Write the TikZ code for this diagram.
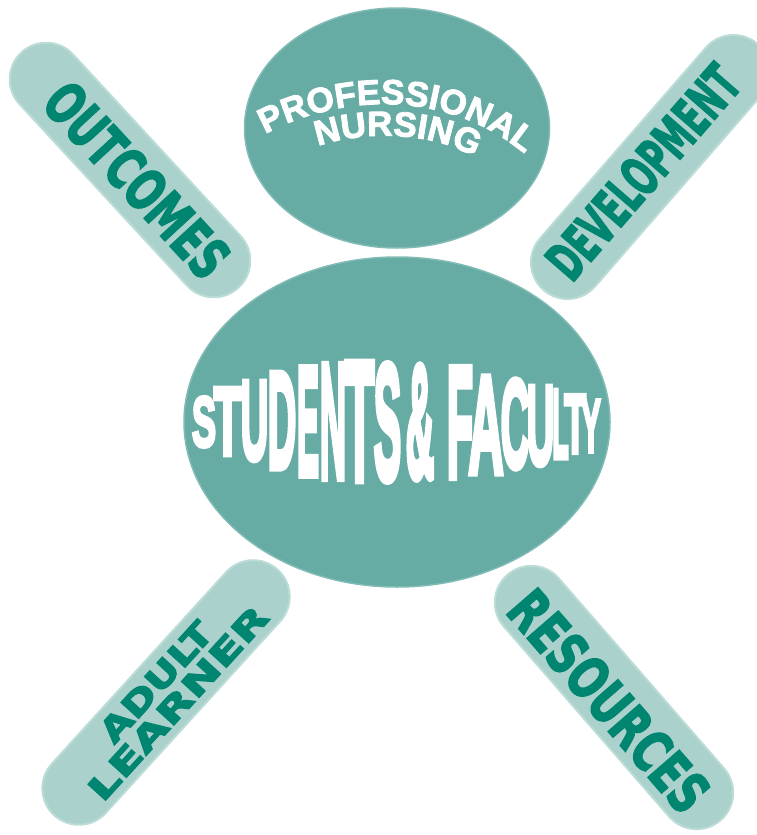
\documentclass[tikz,border=0pt]{standalone}
\usepackage{fontspec}
\newfontfamily\lsans[BoldFeatures={FakeBold=2.5}]{Liberation Sans}
\newfontfamily\lsansheavy[BoldFeatures={FakeBold=5}]{Liberation Sans}
\newfontfamily\dvsans[BoldFeatures={FakeBold=3}]{DejaVu Sans}
\usetikzlibrary{shapes.geometric,shapes.misc,decorations.text}
\definecolor{ellfill}{HTML}{66ACA4}
\definecolor{ellrim}{HTML}{80BBB4}
\definecolor{pillfill}{HTML}{AAD1CB}
\definecolor{pillrim}{HTML}{BCDCD7}
\definecolor{pilltext}{HTML}{008571}
\begin{document}
\begin{tikzpicture}[x=1pt,y=-1pt,
  oval/.style={ellipse, fill=ellfill, draw=ellrim, line width=1.5pt, inner sep=0pt},
  pill/.style={rounded rectangle, fill=pillfill, draw=pillrim, line width=2pt, minimum height=73pt, inner sep=0pt},
  pilltxt/.style={text=pilltext, inner sep=0pt, font=\dvsans\bfseries},
  sfl/.style={text=white, inner sep=0pt, font=\lsansheavy\bfseries},
  arctext/.style={decorate, decoration={text along path, text color=white, text align=center}}
]
\useasboundingbox (0,0) rectangle (756,835);

% pills
\node[pill, minimum width=320pt, rotate=-47.3] (outcomes) at (130,170) {};
\node[pill, minimum width=326pt, rotate=49] (development) at (650.5,167) {};
\node[pill, minimum width=332pt, rotate=47.7] (adult) at (166,692.5) {};
\node[pill, minimum width=325pt, rotate=-49] (resources) at (614,697.5) {};

\node[pilltxt, rotate=-47.3] (outcomesT) at (137,180) {\resizebox{242pt}{42pt}{OUTCOMES}};
\node[pilltxt, rotate=49] (developmentT) at (643,172) {\resizebox{262pt}{40pt}{DEVELOPMENT}};
\node[pilltxt, rotate=-49] (resourcesT) at (609,701) {\resizebox{272pt}{42pt}{RESOURCES}};
\node[pilltxt, rotate=47.7] (adultT) at (156,682) {\resizebox{150pt}{24pt}{ADULT}};
\node[pilltxt, rotate=47.7] (learnerT) at (178,703) {\resizebox{250pt}{24pt}{LEARNER}};

% ellipses
\node[oval, minimum width=305pt, minimum height=240pt] (prof) at (397,128) {};
\node[oval, minimum width=426pt, minimum height=330pt] (sf) at (397,422) {};

% arched title
\path[arctext, decoration={text={|\lsans\bfseries\fontsize{35}{35}\selectfont|PROFESSIONAL}}]
  (257,139) .. controls (320,100) and (440,78) .. (532,160);
\path[arctext, decoration={text={|\lsans\bfseries\fontsize{35}{35}\selectfont|NURSING}}]
  (311,149) .. controls (350,132) and (430,127) .. (481,161);

% bulging centre text
\foreach \a/\b/\t/\u/\c/\n in {193/215/397/447/S/s1, 215/240/388/455/T/s2, 242/267/382/460/U/s3,
  269/295/373/468/D/s4, 298/318/368/475/E/s5, 321/345/365/478/N/s6, 346/373/363/480/T/s7,
  375/400/365/480/S/s8, 407/433/366/478/\&/s9, 448/472/368/477/F/f1, 470/502/377/473/A/f2,
  502/528/380/468/C/f3, 528/553/387/465/U/f4, 553/568/390/458/L/f5, 565/585/395/453/T/f6,
  582/600/400/452/Y/f7}
{
  \pgfmathsetmacro\w{(\b-\a)*1.1}
  \pgfmathsetmacro\h{\u-\t}
  \node[sfl] (\n) at ({(\a+\b)/2},{(\t+\u)/2}) {\resizebox{\w pt}{\h pt}{\c}};
}
\end{tikzpicture}
\end{document}
